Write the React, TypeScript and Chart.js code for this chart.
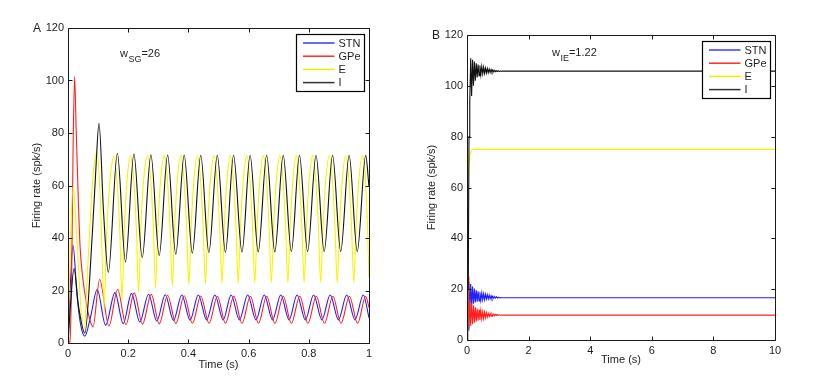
import React, { useEffect, useRef } from "react";
import { Chart, registerables } from "chart.js";

Chart.register(...registerables);

// ---------- series meta ----------
const SERIES_NAMES = ["STN", "GPe", "E", "I"];
const SERIES_COLORS = ["#1f1fff", "#ff1f1f", "#f5f500", "#111111"];
const LEGEND_COLORS = ["#3a3aff", "#ff2a2a", "#eeee00", "#333333"];

// ---------- Panel A (w_SG = 26), time in s, rate in spk/s ----------
const A_STN: number[][] = [
  [0, 0], [0.006, 18], [0.0165, 37.3], [0.03, 18], [0.042, 7], [0.056, 2.6], [0.075, 10], [0.097, 20.4],
  [0.125, 6.8], [0.156, 19.2], [0.1835, 7.4], [0.211, 18.9], [0.2385, 8.0], [0.2675, 18.6], [0.295, 8.4],
  [0.323, 18.4], [0.3505, 8.6], [0.378, 18.3], [0.4055, 8.7], [0.433, 18.3], [0.4605, 8.8], [0.488, 18.3],
  [0.5155, 8.8], [0.542, 18.3], [0.5695, 8.8], [0.597, 18.3], [0.6245, 8.8], [0.652, 18.3], [0.6795, 8.8],
  [0.707, 18.3], [0.7345, 8.8], [0.761, 18.3], [0.7885, 8.8], [0.816, 18.3], [0.8435, 8.8], [0.871, 18.3],
  [0.8985, 8.8], [0.926, 18.3], [0.9535, 8.8], [0.981, 18.3], [1.0, 9.6],
];
const A_GPE: number[][] = [
  [0, 0], [0.006, 0.5], [0.012, 25], [0.017, 75], [0.022, 101.5], [0.027, 82], [0.032, 63], [0.04, 37],
  [0.05, 24], [0.06, 16], [0.07, 10], [0.083, 6.1], [0.105, 24.2], [0.136, 6.5], [0.165, 20.4], [0.1925, 7.0],
  [0.220, 19.1], [0.2475, 7.2], [0.2765, 18.6], [0.303, 7.3], [0.331, 18.2], [0.3585, 7.4], [0.386, 18.0],
  [0.4135, 7.5], [0.441, 17.9], [0.4685, 7.5], [0.4965, 17.8], [0.523, 7.5], [0.551, 17.8], [0.578, 7.5],
  [0.606, 17.8], [0.633, 7.5], [0.660, 17.8], [0.6875, 7.5], [0.715, 17.8], [0.742, 7.5], [0.770, 17.8],
  [0.797, 7.5], [0.825, 17.8], [0.852, 7.5], [0.880, 17.8], [0.907, 7.5], [0.935, 17.8], [0.962, 7.5],
  [0.989, 17.8], [1.0, 13.5],
];
const A_E: number[][] = [
  [0, 0], [0.008, 38], [0.017, 60], [0.03, 38], [0.044, 12], [0.053, 4], [0.066, 30], [0.082, 62],
  [0.097, 72.9], [0.109, 50], [0.12, 13.5],
  [0.128, 40], [0.138, 60], [0.153, 71.2], [0.164, 60], [0.172, 43], [0.1795, 16.5], [0.187, 43], [0.1955, 61],
  [0.208, 71.4], [0.219, 61], [0.227, 44], [0.2345, 19.5], [0.242, 44], [0.2505, 61],
  [0.2645, 71.4], [0.2755, 61], [0.2835, 44], [0.291, 21], [0.2985, 44], [0.307, 61],
  [0.320, 71.4], [0.331, 61], [0.339, 44], [0.3465, 21.8], [0.354, 44], [0.3625, 61],
  [0.375, 71.4], [0.386, 61], [0.394, 44], [0.4015, 22.2], [0.409, 44], [0.4175, 61],
  [0.430, 71.4], [0.441, 61], [0.449, 44], [0.4565, 22.5], [0.464, 44], [0.4725, 61],
  [0.485, 71.4], [0.496, 61], [0.504, 44], [0.5115, 22.7], [0.519, 44], [0.5275, 61],
  [0.539, 71.4], [0.550, 61], [0.558, 44], [0.5655, 22.8], [0.573, 44], [0.5815, 61],
  [0.594, 71.4], [0.605, 61], [0.613, 44], [0.6205, 23], [0.628, 44], [0.6365, 61],
  [0.649, 71.4], [0.660, 61], [0.668, 44], [0.6755, 23], [0.683, 44], [0.6915, 61],
  [0.704, 71.4], [0.715, 61], [0.723, 44], [0.7305, 23], [0.738, 44], [0.7465, 61],
  [0.758, 71.4], [0.769, 61], [0.777, 44], [0.7845, 23], [0.792, 44], [0.8005, 61],
  [0.813, 71.4], [0.824, 61], [0.832, 44], [0.8395, 23], [0.847, 44], [0.8555, 61],
  [0.868, 71.4], [0.879, 61], [0.887, 44], [0.8945, 23], [0.902, 44], [0.9105, 61],
  [0.923, 71.4], [0.934, 61], [0.942, 44], [0.9495, 23], [0.957, 44], [0.9655, 61],
  [0.978, 71.4], [0.989, 61], [0.995, 44], [1.0, 25],
];
const A_I: number[][] = [
  [0, 0], [0.008, 14], [0.02, 28.4], [0.035, 14], [0.056, 3.8], [0.08, 40], [0.092, 65], [0.103, 83.7],
  [0.118, 50], [0.134, 26.9], [0.164, 72.3], [0.191, 30.9], [0.219, 72.0], [0.2465, 32.5], [0.2755, 71.7],
  [0.303, 33.3], [0.331, 71.6], [0.358, 33.8], [0.386, 71.6], [0.413, 34.2], [0.441, 71.5], [0.468, 34.4],
  [0.496, 71.5], [0.523, 34.5], [0.550, 71.5], [0.578, 34.6], [0.605, 71.5], [0.632, 34.7], [0.660, 71.5],
  [0.687, 34.7], [0.715, 71.5], [0.742, 34.8], [0.769, 71.5], [0.796, 34.8], [0.824, 71.5], [0.851, 34.8],
  [0.879, 71.5], [0.906, 34.8], [0.934, 71.5], [0.961, 34.8], [0.989, 71.5], [1.0, 59.5],
];

// ---------- Panel B (w_IE = 1.22) ----------
const B_STN: number[][] = [
  [0, 0], [0.015, 25], [0.035, 4], [0.06, 22.8], [0.09, 12], [0.12, 22], [0.15, 13.5], [0.18, 21],
  [0.21, 14.3], [0.24, 20.2], [0.27, 14.8], [0.30, 19.6], [0.33, 15.1], [0.36, 19.2], [0.39, 15.4],
  [0.42, 18.8], [0.45, 15.6], [0.48, 18.5], [0.51, 15.8], [0.54, 18.2], [0.57, 15.9], [0.60, 18.0],
  [0.63, 16.1], [0.66, 17.8], [0.69, 16.2], [0.72, 17.6], [0.75, 16.2], [0.78, 17.4], [0.81, 16.3],
  [0.84, 17.2], [0.87, 16.4], [0.90, 17.1], [0.93, 16.5], [0.96, 17.0], [0.99, 16.5], [1.02, 16.8],
  [1.05, 16.55], [1.08, 16.7], [1.11, 16.6], [1.15, 16.65], [10, 16.6],
];
const B_GPE: number[][] = [
  [0, 0], [0.02, 66], [0.04, 25], [0.06, 4.5], [0.09, 15.5], [0.12, 5.5], [0.15, 14.5], [0.18, 6.2],
  [0.21, 13.6], [0.24, 6.8], [0.27, 12.9], [0.30, 7.2], [0.33, 12.4], [0.36, 7.6], [0.39, 11.9],
  [0.42, 7.9], [0.45, 11.5], [0.48, 8.3], [0.51, 11.1], [0.54, 8.5], [0.57, 10.9], [0.60, 8.8],
  [0.63, 10.7], [0.66, 9.0], [0.69, 10.5], [0.72, 9.2], [0.75, 10.4], [0.78, 9.35], [0.81, 10.25],
  [0.84, 9.45], [0.87, 10.15], [0.90, 9.55], [0.93, 10.05], [0.96, 9.65], [0.99, 10.0], [1.02, 9.7],
  [1.05, 9.9], [1.08, 9.75], [1.12, 9.8], [10, 9.8],
];
const B_E: number[][] = [
  [0, 0], [0.015, 33], [0.03, 63], [0.06, 69], [0.09, 72.8], [0.14, 74.5], [0.2, 75], [10, 75],
];
const B_I: number[][] = [
  [0, 0], [0.02, 33], [0.04, 20], [0.065, 80], [0.09, 94], [0.12, 110.8], [0.15, 96], [0.18, 110.3],
  [0.21, 100], [0.24, 109.6], [0.27, 102], [0.30, 108.9], [0.33, 103.3], [0.36, 108.4], [0.39, 104],
  [0.42, 108], [0.45, 104.4], [0.48, 107.6], [0.51, 104.7], [0.54, 107.3], [0.57, 104.9], [0.60, 107],
  [0.63, 105.1], [0.66, 106.8], [0.69, 105.2], [0.72, 106.6], [0.75, 105.3], [0.78, 106.4], [0.81, 105.4],
  [0.84, 106.2], [0.87, 105.5], [0.90, 106.05], [0.93, 105.6], [0.96, 105.95], [0.99, 105.65],
  [1.02, 105.9], [1.05, 105.7], [1.08, 105.85], [1.11, 105.75], [1.15, 105.8], [10, 105.8],
];

// ---------- axes ----------
const A_X_RANGE = [0, 1, 0.2];
const B_X_RANGE = [0, 10, 2];
const Y_RANGE = [0, 120, 20];
const X_TITLE = "Time (s)";
const Y_TITLE = "Firing rate (spk/s)";

const FONT_FAMILY = '"Liberation Sans", Arial, Helvetica, sans-serif';
const TEXT_COLOR = "#1e1e1e";

const panelPlugin = {
  id: "panel",
  afterDraw(chart: any, _args: any, opts: any) {
    const { ctx, chartArea: a, scales } = chart;
    const xs = scales.x;
    const ys = scales.y;
    const L = Math.round(a.left) + 0.5;
    const R = Math.round(a.right) + 0.5;
    const T = Math.round(a.top) + 0.5;
    const B = Math.round(a.bottom) + 0.5;
    ctx.save();
    // inward ticks and box
    ctx.strokeStyle = "#1a1a1a";
    ctx.lineWidth = 1;
    ctx.beginPath();
    xs.ticks.forEach((t: any) => {
      const px = Math.round(xs.getPixelForValue(t.value)) + 0.5;
      ctx.moveTo(px, B); ctx.lineTo(px, B - 4);
      ctx.moveTo(px, T); ctx.lineTo(px, T + 4);
    });
    ys.ticks.forEach((t: any) => {
      const py = Math.round(ys.getPixelForValue(t.value)) + 0.5;
      ctx.moveTo(L, py); ctx.lineTo(L + 4, py);
      ctx.moveTo(R, py); ctx.lineTo(R - 4, py);
    });
    ctx.rect(L, T, R - L, B - T);
    ctx.stroke();

    // panel letter
    ctx.fillStyle = TEXT_COLOR;
    ctx.font = `12px ${FONT_FAMILY}`;
    ctx.textBaseline = "alphabetic";
    ctx.textAlign = "left";
    ctx.fillText(opts.letter, a.left - 35, a.top + 4);

    // annotation w_sub=val
    const ax = a.left + opts.annX;
    const ay = a.top + opts.annY;
    ctx.font = `11px ${FONT_FAMILY}`;
    ctx.fillText("w", ax, ay);
    const ww = ctx.measureText("w").width;
    ctx.font = `9px ${FONT_FAMILY}`;
    ctx.fillText(opts.sub, ax + ww + 0.5, ay + 5);
    const sw = ctx.measureText(opts.sub).width;
    ctx.font = `11px ${FONT_FAMILY}`;
    ctx.fillText("=" + opts.val, ax + ww + sw + 0.5, ay);

    // legend box
    const bw = 68, bh = 57;
    const bx = Math.round(a.right - 5.5 - bw) + 0.5;
    const by = Math.round(a.top + 5.5) + 0.5;
    ctx.fillStyle = "#ffffff";
    ctx.fillRect(bx, by, bw, bh);
    ctx.strokeStyle = "#000000";
    ctx.lineWidth = 1.2;
    ctx.strokeRect(bx, by, bw, bh);
    ctx.font = `11px ${FONT_FAMILY}`;
    ctx.textBaseline = "middle";
    for (let i = 0; i < SERIES_NAMES.length; i++) {
      const ry = by + 8.5 + i * 13.2;
      ctx.beginPath();
      ctx.strokeStyle = LEGEND_COLORS[i];
      ctx.lineWidth = 1.5;
      ctx.moveTo(bx + 6.5, ry);
      ctx.lineTo(bx + 38, ry);
      ctx.stroke();
      ctx.fillStyle = TEXT_COLOR;
      ctx.fillText(SERIES_NAMES[i], bx + 42, ry + 0.5);
    }
    ctx.restore();
  },
};

type PanelCfg = {
  series: number[][][];
  xRange: number[];
  monotone: boolean;
  padding: { left: number; right: number; top: number; bottom: number };
  yWidth: number;
  xHeight: number;
  letter: string;
  sub: string;
  val: string;
  annX: number;
  annY: number;
  width: number;
};

function Panel({ cfg }: { cfg: PanelCfg }) {
  const ref = useRef<HTMLCanvasElement | null>(null);
  useEffect(() => {
    if (!ref.current) return;
    const font = { family: FONT_FAMILY, size: 11 };
    const datasets = cfg.series.map((pts, i) => ({
      label: SERIES_NAMES[i],
      data: pts.map(([x, y]) => ({ x, y })),
      borderColor: SERIES_COLORS[i],
      backgroundColor: SERIES_COLORS[i],
      borderWidth: 1.1,
      pointRadius: 0,
      fill: false,
      order: 4 - i,
      cubicInterpolationMode: cfg.monotone ? ("monotone" as const) : ("default" as const),
      tension: cfg.monotone ? 0.4 : 0,
    }));
    const chart = new Chart(ref.current, {
      type: "line",
      data: { datasets },
      plugins: [panelPlugin],
      options: {
        responsive: false,
        animation: false,
        devicePixelRatio: 1,
        events: [],
        layout: { padding: cfg.padding },
        plugins: {
          legend: { display: false },
          tooltip: { enabled: false },
          // @ts-ignore
          panel: { letter: cfg.letter, sub: cfg.sub, val: cfg.val, annX: cfg.annX, annY: cfg.annY },
        },
        scales: {
          x: {
            type: "linear",
            min: cfg.xRange[0],
            max: cfg.xRange[1],
            grid: { display: false, drawTicks: false },
            border: { display: false },
            ticks: {
              stepSize: cfg.xRange[2],
              padding: 4,
              color: TEXT_COLOR,
              font,
              maxRotation: 0,
              autoSkip: false,
              callback: (v: any) => String(Number(Number(v).toFixed(2))),
            },
            title: { display: true, text: X_TITLE, padding: 0, color: TEXT_COLOR, font },
            afterFit: (s: any) => { s.height = cfg.xHeight; },
          },
          y: {
            type: "linear",
            min: Y_RANGE[0],
            max: Y_RANGE[1],
            grid: { display: false, drawTicks: false },
            border: { display: false },
            ticks: { stepSize: Y_RANGE[2], padding: 4, color: TEXT_COLOR, font },
            title: { display: true, text: Y_TITLE, padding: 0, color: TEXT_COLOR, font },
            afterFit: (s: any) => { s.width = cfg.yWidth; },
          },
        },
      } as any,
    });
    return () => chart.destroy();
  }, [cfg]);
  return <canvas ref={ref} width={cfg.width} height={379} style={{ display: "block" }} />;
}

const PANEL_A: PanelCfg = {
  series: [A_STN, A_GPE, A_E, A_I],
  xRange: A_X_RANGE,
  monotone: true,
  padding: { left: 30, right: 41, top: 28, bottom: 7 },
  yWidth: 38,
  xHeight: 29,
  letter: "A",
  sub: "SG",
  val: "26",
  annX: 52,
  annY: 29,
  width: 410,
};

const PANEL_B: PanelCfg = {
  series: [B_STN, B_GPE, B_E, B_I],
  xRange: B_X_RANGE,
  monotone: false,
  padding: { left: 15, right: 44, top: 35, bottom: 12 },
  yWidth: 42,
  xHeight: 27,
  letter: "B",
  sub: "IE",
  val: "1.22",
  annX: 85,
  annY: 21,
  width: 409,
};

export default function App() {
  return (
    <div style={{ position: "absolute", left: 0, top: 0, width: 819, height: 379, background: "#fff" }}>
      <div style={{ position: "absolute", left: 0, top: 0 }}>
        <Panel cfg={PANEL_A} />
      </div>
      <div style={{ position: "absolute", left: 410, top: 0 }}>
        <Panel cfg={PANEL_B} />
      </div>
    </div>
  );
}
